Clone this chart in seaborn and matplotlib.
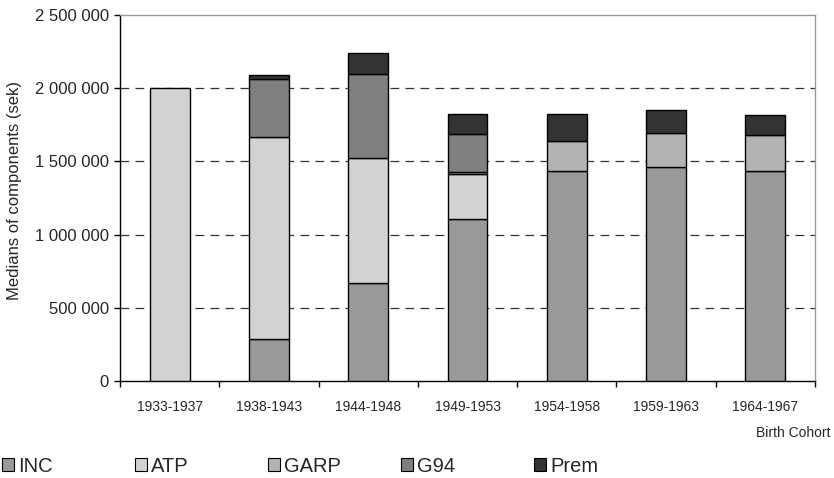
import matplotlib
matplotlib.use("Agg")
import matplotlib.pyplot as plt
from matplotlib.patches import Patch
from matplotlib.ticker import FuncFormatter, FixedLocator
import numpy as np
import pandas as pd
import seaborn as sns

# Median pension components per birth cohort (SEK)
cohorts = ["1933-1937", "1938-1943", "1944-1948", "1949-1953",
           "1954-1958", "1959-1963", "1964-1967"]
inc = [0, 285000, 672000, 1105000, 1434000, 1463000, 1434000]
atp = [2000000, 1383000, 852000, 308000, 0, 0, 0]
garp = [0, 0, 0, 18000, 202000, 232000, 243000]
g94 = [0, 394000, 570000, 255000, 0, 0, 0]
prem = [0, 25000, 146000, 137000, 187000, 158000, 137000]

components = ["INC", "ATP", "GARP", "G94", "Prem"]
series = [inc, atp, garp, g94, prem]
colors = ["#999999", "#d2d2d2", "#b3b3b3", "#7f7f7f", "#333333"]

sns.set_style("white")
plt.rcParams["font.family"] = ["Liberation Sans", "DejaVu Sans"]

W, H = 834, 478
fig = plt.figure(figsize=(W / 100, H / 100), dpi=100)
ax = fig.add_axes([120 / W, 97 / H, 695 / W, 366 / H])

# stacked segments, skipping empty components
bottom = np.zeros(len(cohorts))
for name, vals, col in zip(components, series, colors):
    vals = np.array(vals, dtype=float)
    keep = vals > 0
    df = pd.DataFrame({"cohort": np.array(cohorts)[keep], "value": vals[keep]})
    sns.barplot(data=df, x="cohort", y="value", order=cohorts, color=col,
                width=0.4, bottom=bottom[keep], edgecolor="black",
                linewidth=1.0, saturation=1, ax=ax, zorder=3)
    bottom = bottom + vals

ax.set_xlim(-0.5, len(cohorts) - 0.5)
ax.set_ylim(0, 2500000)
ax.set_yticks(np.arange(0, 2500001, 500000))
ax.yaxis.set_major_formatter(
    FuncFormatter(lambda v, p: f"{int(v):,}".replace(",", " ")))

# dashed gridlines
for yv in [500000, 1000000, 1500000, 2000000]:
    ax.axhline(yv, color="#333333", lw=0.9, ls=(0, (7, 5)), zorder=1)

ax.set_xlabel("")
ax.set_ylabel("Medians of components (sek)", fontsize=12, va="center")
ax.yaxis.set_label_coords(-105 / 695, 0.52)

# tick marks at category boundaries, labels at centers
ax.xaxis.set_minor_locator(FixedLocator(np.arange(-0.5, len(cohorts), 1.0)))
ax.tick_params(axis="x", which="major", length=0, labelsize=10, pad=14)
ax.tick_params(axis="x", which="minor", length=4, width=1, color="black",
               direction="out", bottom=True)
ax.tick_params(axis="y", length=4, width=1, color="black", direction="out",
               left=True, labelsize=12, pad=4)

for s in ["left", "bottom"]:
    ax.spines[s].set_color("black")
    ax.spines[s].set_linewidth(1.0)
for s in ["top", "right"]:
    ax.spines[s].set_visible(True)
    ax.spines[s].set_color("#999999")
    ax.spines[s].set_linewidth(1.0)

fig.text(830 / W, 1 - 433 / H, "Birth Cohort", ha="right", va="center",
         fontsize=10)

# legend entries evenly spaced along the bottom
for i, (n, c) in enumerate(zip(components, colors)):
    h = Patch(facecolor=c, edgecolor="black", linewidth=0.8, label=n)
    fig.legend(handles=[h], loc="center left",
               bbox_to_anchor=((2 + 133 * i) / W, 1 - 466 / H),
               frameon=False, fontsize=14.5, handlelength=0.6,
               handleheight=0.6, handletextpad=0.2, borderpad=0,
               borderaxespad=0)

fig.savefig("out.png", dpi=100)
